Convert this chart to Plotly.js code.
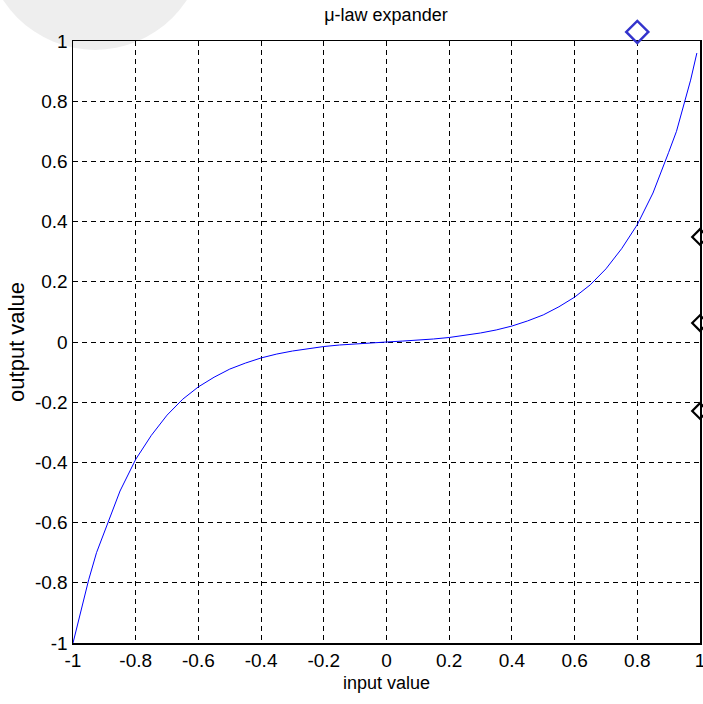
<!DOCTYPE html>
<html><head><meta charset="utf-8">
<script src="https://cdn.plot.ly/plotly-3.0.1.min.js"></script>
<style>html,body{margin:0;padding:0;background:#fff}#chart{width:703px;height:704px}</style>
</head><body><div id="chart"></div>
<script>
// curve
const inputValues = [-1, -0.975, -0.95, -0.925, -0.9, -0.875, -0.85, -0.8, -0.75, -0.7, -0.65, -0.6, -0.55, -0.5, -0.45, -0.4, -0.35, -0.3, -0.25, -0.2, -0.15, -0.1, -0.05, 0,
  0.05, 0.1, 0.15, 0.2, 0.25, 0.3, 0.35, 0.4, 0.45, 0.5, 0.55, 0.6, 0.65, 0.7, 0.75, 0.8, 0.85, 0.875, 0.9, 0.925, 0.95, 0.97, 0.99];
const outputValues = [-1, -0.89, -0.79, -0.70, -0.63, -0.56, -0.495, -0.39, -0.31, -0.243, -0.19, -0.149, -0.117, -0.09, -0.07, -0.053, -0.04, -0.03, -0.022, -0.015, -0.01, -0.006, -0.003, 0,
  0.003, 0.006, 0.01, 0.015, 0.022, 0.03, 0.04, 0.053, 0.07, 0.09, 0.117, 0.149, 0.19, 0.243, 0.31, 0.39, 0.495, 0.56, 0.63, 0.70, 0.79, 0.87, 0.96];
// marker points
const blueMarkX = [0.8];
const blueMarkY = [1.03];
const blackMarkX = [1, 1, 1];
const blackMarkY = [0.349, 0.063, -0.229];
const tickVals = [-1, -0.8, -0.6, -0.4, -0.2, 0, 0.2, 0.4, 0.6, 0.8, 1];
const tickText = ['-1', '-0.8', '-0.6', '-0.4', '-0.2', '0', '0.2', '0.4', '0.6', '0.8', '1'];

const font = 'Liberation Sans, Arial, sans-serif';
const W = 703, H = 704, mT = 20, mB = 61, plotTopPx = 41;
const fullH = H - mT - mB;              // height of the outer (overlay) area
const mainH = H - plotTopPx - mB;       // height of the framed plot area
const mainTop = mainH / fullH;          // domain top of the framed plot area

const traces = [
  {x: inputValues, y: outputValues, type: 'scatter', mode: 'lines', line: {color: '#0000ff', width: 1}, hoverinfo: 'skip'},
  {x: blackMarkX, y: blackMarkY, type: 'scatter', mode: 'markers', cliponaxis: false,
   marker: {symbol: 'diamond-open', size: 12, color: '#000', line: {width: 2.2, color: '#000'}}},
  {x: blueMarkX, y: blueMarkY, xaxis: 'x2', yaxis: 'y2', type: 'scatter', mode: 'markers', cliponaxis: false,
   marker: {symbol: 'diamond-open', size: 17, color: '#3333cc', line: {width: 2.5, color: '#3333cc'}}}
];
const axisCommon = {
  range: [-1, 1], tickvals: tickVals, ticktext: tickText, ticklabeloverflow: 'allow',
  showgrid: true, gridcolor: '#000', gridwidth: 1, griddash: '5px,4px',
  zeroline: false, showline: true, linecolor: '#000', linewidth: 1.5, mirror: true,
  ticks: '', tickfont: {family: font, size: 19, color: '#000'}
};
const layout = {
  width: W, height: H,
  margin: {l: 73, r: 3, t: mT, b: mB},
  paper_bgcolor: '#fff', plot_bgcolor: 'rgba(0,0,0,0)',
  showlegend: false,
  font: {family: font, color: '#000'},
  title: {text: 'μ-law expander', x: 0.549, xanchor: 'center', y: 0.979, yanchor: 'middle', font: {family: font, size: 18, color: '#000'}},
  xaxis: Object.assign({}, axisCommon, {title: {text: 'input value', font: {family: font, size: 18}, standoff: 6}}),
  yaxis: Object.assign({}, axisCommon, {domain: [0, mainTop], title: {text: 'output value', font: {family: font, size: 22}, standoff: 4}}),
  xaxis2: {domain: [0, 1], range: [-1, 1], anchor: 'y2', visible: false, showgrid: false, zeroline: false},
  yaxis2: {domain: [0, 1], range: [-1, -1 + 2 * fullH / mainH], anchor: 'x2', visible: false, showgrid: false, zeroline: false},
  shapes: [{type: 'circle', xref: 'paper', yref: 'paper', layer: 'below',
    x0: -0.14, x1: 0.21, y0: 0.952, y1: 1.305, fillcolor: 'rgba(200,200,200,0.3)', line: {width: 0}}]
};
Plotly.newPlot('chart', traces, layout, {displayModeBar: false, staticPlot: true});
</script></body></html>
